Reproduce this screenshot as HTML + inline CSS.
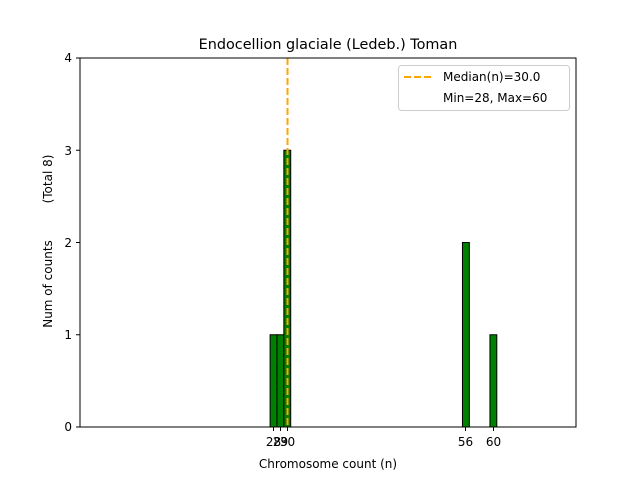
<!DOCTYPE html>
<html><head><style>
body{margin:0;background:#fff;}
svg text{font-family:"DejaVu Sans","Liberation Sans",sans-serif;}
</style></head><body>
<svg width="640" height="480" xmlns="http://www.w3.org/2000/svg">
<rect width="640" height="480" fill="#fff"/>
<text x="328" y="49" font-size="14.4" text-anchor="middle">Endocellion glaciale (Ledeb.) Toman</text>
<g fill="#008000" stroke="#000" stroke-width="1">
<rect x="270.1" y="334.75" width="6.87" height="92.25"/>
<rect x="276.97" y="334.75" width="6.87" height="92.25"/>
<rect x="283.84" y="150.25" width="6.87" height="276.75"/>
<rect x="462.46" y="242.5" width="6.87" height="184.5"/>
<rect x="489.94" y="334.75" width="6.87" height="92.25"/>
</g>
<line x1="287.5" y1="58" x2="287.5" y2="427" stroke="#FFA500" stroke-width="2" stroke-dasharray="7,3"/>
<rect x="80" y="58" width="496" height="369" fill="none" stroke="#000" stroke-width="1"/>
<g font-size="12" text-anchor="end">
<line x1="76" y1="427" x2="80" y2="427" stroke="#000"/><text x="72" y="431">0</text>
<line x1="76" y1="334.75" x2="80" y2="334.75" stroke="#000"/><text x="72" y="339">1</text>
<line x1="76" y1="242.5" x2="80" y2="242.5" stroke="#000"/><text x="72" y="247">2</text>
<line x1="76" y1="150.25" x2="80" y2="150.25" stroke="#000"/><text x="72" y="155">3</text>
<line x1="76" y1="58" x2="80" y2="58" stroke="#000"/><text x="72" y="62">4</text>
</g>
<g font-size="12" text-anchor="middle">
<line x1="273.5" y1="427" x2="273.5" y2="431" stroke="#000"/><text x="273.5" y="446">28</text>
<line x1="280.5" y1="427" x2="280.5" y2="431" stroke="#000"/><text x="280.5" y="446">29</text>
<line x1="287.5" y1="427" x2="287.5" y2="431" stroke="#000"/><text x="287.5" y="446">30</text>
<line x1="465.5" y1="427" x2="465.5" y2="431" stroke="#000"/><text x="465.5" y="446">56</text>
<line x1="493.5" y1="427" x2="493.5" y2="431" stroke="#000"/><text x="493.5" y="446">60</text>
</g>
<text x="328" y="468" font-size="12" text-anchor="middle">Chromosome count (n)</text>
<text transform="translate(52,284) rotate(-90)" font-size="12" text-anchor="middle">Num of counts</text>
<text transform="translate(52,179) rotate(-90)" font-size="12" text-anchor="middle">(Total 8)</text>
<rect x="398.5" y="65.5" width="171" height="45" rx="3" fill="#fff" stroke="#ccc"/>
<line x1="404" y1="77" x2="432" y2="77" stroke="#FFA500" stroke-width="2" stroke-dasharray="7,3"/>
<text x="443" y="81" font-size="12">Median(n)=30.0</text>
<text x="443" y="102" font-size="12">Min=28, Max=60</text>
</svg>
</body></html>
